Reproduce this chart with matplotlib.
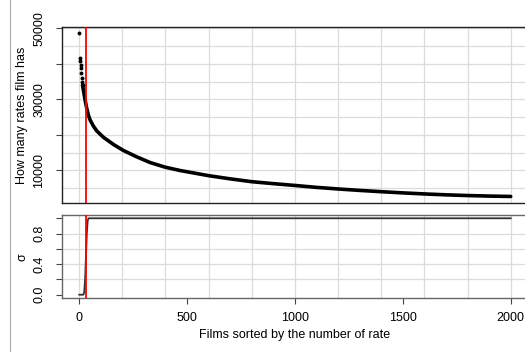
import matplotlib
matplotlib.use("Agg")
import matplotlib.pyplot as plt
from matplotlib.lines import Line2D

plt.rcParams["font.family"] = ["Liberation Sans", "DejaVu Sans"]

# ── data ──────────────────────────────────────────────────────────────────
# first films show up as separate dots
head_films = [1, 5, 6, 8, 9, 11, 13, 14, 16]
head_rates = [48600, 41500, 40800, 39700, 38700, 37500, 35900, 35000, 34000]

# the rest of the films form a dense band of dots
tail_films = [16, 20, 28, 35, 43, 51, 66, 82, 113, 159, 205, 267, 329, 398,
              468, 545, 600, 700, 800, 900, 1000, 1100, 1200, 1300, 1400,
              1500, 1600, 1700, 1800, 1900, 2000]
tail_rates = [34000, 32600, 29800, 27600, 25600, 24200, 22500, 21100, 19300,
              17300, 15600, 13800, 12200, 10900, 9950, 9100, 8500, 7600,
              6800, 6250, 5740, 5200, 4750, 4350, 3980, 3650, 3350, 3100,
              2900, 2750, 2640]

sigma_films = [1, 10, 20, 24, 28, 32, 36, 40, 44, 60, 500, 1000, 1500, 2000]
sigma_vals = [0, 0, 0, 0.03, 0.2, 0.5, 0.8, 0.97, 1.0, 1.0, 1.0, 1.0, 1.0, 1.0]

cutoff = 32

# ── layout ────────────────────────────────────────────────────────────────
W, H = 525, 352
fig = plt.figure(figsize=(W / 100, H / 100), dpi=100)

left, right = 62 / W, 528 / W
ax1 = fig.add_axes([left, 1 - 203 / H, right - left, (203 - 26.7) / H])
ax2 = fig.add_axes([left, 1 - 298 / H, right - left, (298 - 215) / H])

xlim = (-79, 2080)
grid_kw = dict(color="#dcdcdc", linewidth=0.9, zorder=0)

# ── top panel ─────────────────────────────────────────────────────────────
for x in range(0, 2001, 200):
    ax1.axvline(x, **grid_kw)
for y in range(5000, 50001, 5000):
    ax1.axhline(y, **grid_kw)

ax1.plot(tail_films, tail_rates, color="black", linewidth=2.6,
         solid_capstyle="round", solid_joinstyle="round", zorder=3)
ax1.plot(head_films, head_rates, "o", color="black", markersize=2.8,
         markeredgewidth=0, zorder=3)
ax1.axvline(cutoff, color="red", linewidth=1.3, zorder=4)

ax1.set_xlim(*xlim)
ax1.set_ylim(800, 50440)
ax1.set_xticks([])
ax1.set_yticks(range(10000, 50001, 10000))
ax1.set_yticklabels(["10000", "", "30000", "", "50000"])

# ── bottom panel ──────────────────────────────────────────────────────────
for x in range(0, 2001, 200):
    ax2.axvline(x, **grid_kw)
for y in [0.2, 0.4, 0.6, 0.8]:
    ax2.axhline(y, **grid_kw)

ax2.plot(sigma_films, sigma_vals, color="#333333", linewidth=1.3, zorder=3)
ax2.axvline(cutoff, color="red", linewidth=1.3, zorder=4)

ax2.set_xlim(*xlim)
ax2.set_ylim(-0.043, 1.043)
ax2.set_xticks(range(0, 2001, 500))
ax2.set_yticks([0, 0.2, 0.4, 0.6, 0.8, 1.0])
ax2.set_yticklabels(["0.0", "", "0.4", "", "0.8", ""])

for ax, edge in [(ax1, "#222222"), (ax2, "#666666")]:
    for s in ax.spines.values():
        s.set_color(edge)
        s.set_linewidth(1.0)
    ax.tick_params(axis="both", length=4, width=0.8, color="#444444",
                   labelsize=9, pad=8)
    ax.tick_params(axis="x", pad=6)
    for lab in ax.get_yticklabels():
        lab.set_rotation(90)
        lab.set_verticalalignment("center")

# ── labels ────────────────────────────────────────────────────────────────
fig.text(22 / W, 1 - 115 / H, "How many rates film has", rotation=90,
         ha="center", va="center", fontsize=9)
fig.text(22 / W, 1 - 257 / H, "σ", rotation=90,
         ha="center", va="center", fontsize=9)
fig.text(295 / W, 1 - 335 / H, "Films sorted by the number of rate",
         ha="center", va="center", fontsize=9)

# thin border line on the left of the original screenshot
fig.add_artist(Line2D([9.5 / W, 9.5 / W], [0, 1], transform=fig.transFigure,
                      color="#aaaaaa", linewidth=0.8))

plt.savefig("out.png", dpi=100)
